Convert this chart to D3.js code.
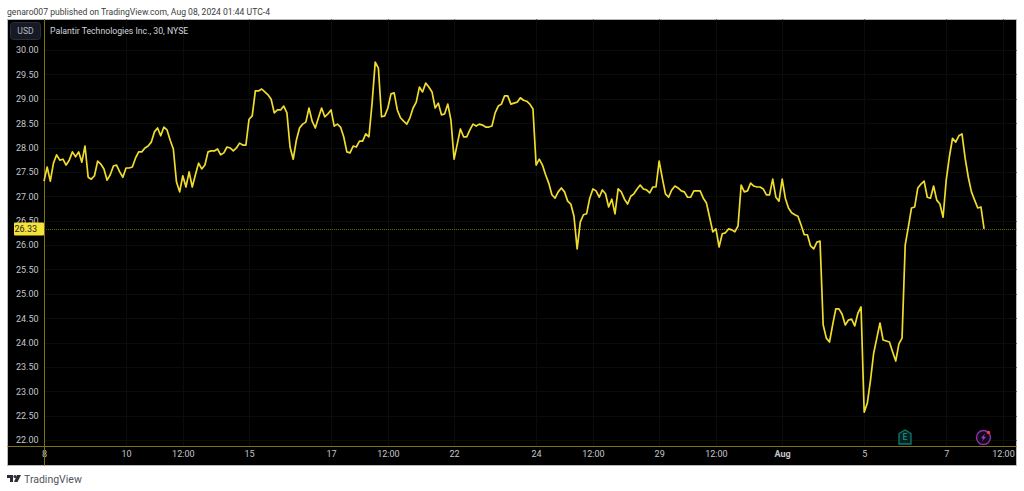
<!DOCTYPE html>
<html>

<head>
    <title>Palantir Technologies Inc., 30, NYSE</title>
    <script src="https://d3js.org/d3.v7.min.js"></script>
    <style>
        html, body { margin: 0; padding: 0; background: #fff; overflow: hidden; }
        text { font-family: Roboto, "Open Sans", sans-serif; }
    </style>
</head>

<body>
    <svg width="1024" height="491" id="mainSvg"></svg>
    <script>
        // 30 minute closes, 13 bars per session, Jul 8 to Aug 7 2024
        const closes = [
            27.31,27.60,27.31,27.68,27.85,27.74,27.76,27.64,27.74,27.91,
            27.81,27.91,27.70,28.03,27.39,27.35,27.42,27.72,27.66,27.56,
            27.33,27.44,27.62,27.64,27.50,27.39,27.58,27.58,27.60,27.78,
            27.91,27.91,27.99,28.03,28.11,28.32,28.40,28.24,28.42,28.36,
            28.15,27.97,27.29,27.09,27.42,27.19,27.50,27.19,27.44,27.68,
            27.56,27.64,27.91,27.93,27.93,27.97,27.85,27.89,28.01,27.99,
            27.93,27.99,28.09,28.05,28.05,28.58,28.65,29.16,29.16,29.20,
            29.14,29.08,28.99,28.71,28.77,28.77,28.85,28.71,28.01,27.76,
            28.15,28.40,28.48,28.52,28.81,28.54,28.40,28.61,28.81,28.63,
            28.69,28.77,28.44,28.48,28.42,28.22,27.91,27.89,28.03,28.01,
            28.13,28.13,28.28,28.22,28.91,29.75,29.63,28.63,28.65,28.81,
            29.10,29.12,28.77,28.61,28.54,28.48,28.61,28.81,28.93,29.24,
            29.14,29.32,29.24,29.14,28.81,28.91,
            28.67,28.69,28.89,28.56,27.76,28.07,28.38,28.22,28.22,28.36,
            28.48,28.44,28.48,28.46,28.42,28.42,28.44,28.71,28.85,28.89,
            29.06,29.06,28.89,28.91,28.93,29.02,28.97,28.95,28.89,28.79,
            27.64,27.76,27.64,27.44,27.27,27.03,26.96,27.09,27.17,27.09,
            26.90,26.84,26.59,25.92,26.47,26.62,26.64,26.96,27.15,27.11,
            26.98,27.13,27.05,26.78,26.94,26.64,27.15,27.09,26.94,26.84,
            27.00,27.05,27.15,27.23,27.15,27.13,27.07,27.19,27.19,27.72,
            27.37,27.05,26.98,27.13,27.21,27.17,27.11,27.09,26.98,26.98,
            27.11,27.11,27.11,26.96,26.86,26.57,26.27,26.33,25.96,26.23,
            26.25,26.33,26.31,26.27,26.39,27.23,27.09,27.11,27.27,27.21,
            27.19,27.19,27.15,27.03,27.03,27.35,26.98,26.90,27.35,26.96,
            26.76,26.66,26.62,26.59,26.41,26.21,26.21,25.98,25.92,26.06,
            26.08,
            24.36,24.09,24.01,24.36,24.69,24.69,24.58,24.36,24.46,24.48,
            24.34,24.60,24.73,22.57,22.76,23.23,23.78,24.09,24.40,24.05,
            24.03,24.01,23.81,23.62,23.97,24.09,
            26.00,26.37,26.76,26.78,27.17,27.25,27.31,26.98,26.96,27.21,
            26.92,26.84,26.57,27.33,27.81,28.19,28.11,28.24,28.28,27.78,
            27.39,27.09,26.92,26.76,26.78,26.33
        ];
        const lastPrice = 26.33;
        const priceTicks = [22, 22.5, 23, 23.5, 24, 24.5, 25, 25.5, 26, 26.5, 27, 27.5, 28, 28.5, 29, 29.5, 30];
        const timeBars = [0, 26, 44, 65, 91, 109, 130, 156, 174, 195, 213, 234, 260, 286, 304];
        const timeLabels = ["8", "10", "12:00", "15", "17", "12:00", "22", "24", "12:00", "29", "12:00", "Aug", "5", "7", "12:00"];

        const frame = { left: 7.5, right: 1016.5, top: 19.5, bottom: 465.5 };
        const baseY = 446.5;

        const mainSvg = d3.select("#mainSvg");

        const x = d3.scaleLinear().domain([0, 304]).range([44, 1003]);
        const y = d3.scaleLinear().domain([22, 30]).range([440, 50]);

        // header
        mainSvg.append("text")
            .attr("x", 7).attr("y", 14.5)
            .attr("fill", "#3c3c3c").attr("font-size", 8.6)
            .text("genaro007 published on TradingView.com, Aug 08, 2024 01:44 UTC-4");

        mainSvg.append("rect")
            .attr("x", frame.left).attr("y", frame.top)
            .attr("width", frame.right - frame.left).attr("height", frame.bottom - frame.top)
            .attr("fill", "#000").attr("stroke", "#b9b9bd");

        // grid
        const g = mainSvg.append("g");
        g.selectAll(".hGrid").data(priceTicks).join("line")
            .attr("class", "hGrid")
            .attr("x1", x(0)).attr("x2", frame.right)
            .attr("y1", d => Math.round(y(d)) + 0.5).attr("y2", d => Math.round(y(d)) + 0.5)
            .attr("stroke", "#0b0e07");
        g.selectAll(".vGrid").data(timeBars).join("line")
            .attr("class", "vGrid")
            .attr("x1", d => Math.round(x(d)) + 0.5).attr("x2", d => Math.round(x(d)) + 0.5)
            .attr("y1", frame.top).attr("y2", baseY)
            .attr("stroke", "#0b0e07");

        // axes
        const yAxis = d3.axisLeft(y).tickValues(priceTicks).tickSize(0).tickPadding(0)
            .tickFormat(d3.format(".2f"));
        const yAxisG = mainSvg.append("g")
            .attr("transform", "translate(38.5,0)")
            .call(yAxis);
        const xAxis = d3.axisBottom(x).tickValues(timeBars).tickSize(0).tickPadding(0)
            .tickFormat((d, i) => timeLabels[i]);
        const xAxisG = mainSvg.append("g")
            .attr("transform", "translate(0,451)")
            .call(xAxis);
        [yAxisG, xAxisG].forEach(a => {
            a.select(".domain").remove();
            a.selectAll("text").attr("fill", "#c4c6cc").attr("font-size", 9).attr("font-family", "Roboto, sans-serif");
        });
        xAxisG.selectAll("text").filter(d => d === 234).attr("font-weight", "bold");

        // zero lines of the pane
        mainSvg.append("line")
            .attr("x1", x(0) + 0.5).attr("x2", x(0) + 0.5)
            .attr("y1", frame.top).attr("y2", frame.bottom)
            .attr("stroke", "#80720f");
        mainSvg.append("line")
            .attr("x1", frame.left).attr("x2", frame.right)
            .attr("y1", baseY).attr("y2", baseY)
            .attr("stroke", "#80720f");

        // last price line
        mainSvg.append("line")
            .attr("x1", x(0)).attr("x2", frame.right)
            .attr("y1", Math.round(y(lastPrice)) + 0.5).attr("y2", Math.round(y(lastPrice)) + 0.5)
            .attr("stroke", "#6f6414").attr("stroke-dasharray", "1 1");

        const line = d3.line().x((d, i) => x(i)).y(d => y(d));
        mainSvg.append("path")
            .datum(closes)
            .attr("fill", "none")
            .attr("stroke", "#f0dc2c")
            .attr("stroke-width", 1.7)
            .attr("stroke-linejoin", "round")
            .attr("d", line);

        // last price label
        mainSvg.append("rect")
            .attr("x", 14).attr("y", y(lastPrice) - 6.5)
            .attr("width", 30).attr("height", 13).attr("rx", 1)
            .attr("fill", "#f5e23a");
        mainSvg.append("text")
            .attr("x", 37).attr("y", y(lastPrice) + 3.5)
            .attr("text-anchor", "end")
            .attr("fill", "#222").attr("font-size", 9)
            .text(d3.format(".2f")(lastPrice));

        // currency button and title
        mainSvg.append("rect")
            .attr("x", 10.5).attr("y", 22.5)
            .attr("width", 30).attr("height", 17).attr("rx", 3)
            .attr("fill", "#161a25").attr("stroke", "#2a2e39");
        mainSvg.append("text")
            .attr("x", 25.5).attr("y", 34)
            .attr("text-anchor", "middle")
            .attr("fill", "#b2b5be").attr("font-size", 8.6)
            .text("USD");
        mainSvg.append("text")
            .attr("x", 50).attr("y", 34)
            .attr("fill", "#d1d4dc").attr("font-size", 8.7)
            .text("Palantir Technologies Inc., 30, NYSE");

        // earnings marker
        const earn = mainSvg.append("g").attr("transform", "translate(905,437)");
        earn.append("path")
            .attr("d", "M-6,-3.5 L0,-7 L6,-3.5 L6,7 L-6,7 Z")
            .attr("fill", "#06211f").attr("stroke", "#0f7a70").attr("stroke-width", 1.3);
        earn.append("text")
            .attr("y", 3.2).attr("text-anchor", "middle")
            .attr("fill", "#13877c").attr("font-size", 8.5).attr("font-weight", "bold")
            .text("E");

        // dividend / news marker
        const flash = mainSvg.append("g").attr("transform", "translate(983.5,437.5)");
        flash.append("circle")
            .attr("r", 7).attr("fill", "#140a1c").attr("stroke", "#8a35a8").attr("stroke-width", 1.4);
        flash.append("path")
            .attr("d", "M1.5,-4 L-2.5,0.8 L-0.2,0.8 L-1.5,4 L2.5,-0.8 L0.2,-0.8 Z")
            .attr("fill", "#a63fc8");
        flash.append("circle")
            .attr("cx", 5).attr("cy", -5).attr("r", 1.8).attr("fill", "#f23645");

        // footer logo
        const logo = mainSvg.append("g").attr("transform", "translate(7,475)").attr("fill", "#2a2e39");
        logo.append("path").attr("d", "M0,0 H6 V7 H3 V3 H0 Z");
        logo.append("circle").attr("cx", 8).attr("cy", 1.5).attr("r", 1.5);
        logo.append("path").attr("d", "M10,0 H14 L10.5,7 H7 Z");
        mainSvg.append("text")
            .attr("x", 24).attr("y", 483)
            .attr("fill", "#50535e").attr("font-size", 10.5)
            .text("TradingView");
    </script>
</body>

</html>
